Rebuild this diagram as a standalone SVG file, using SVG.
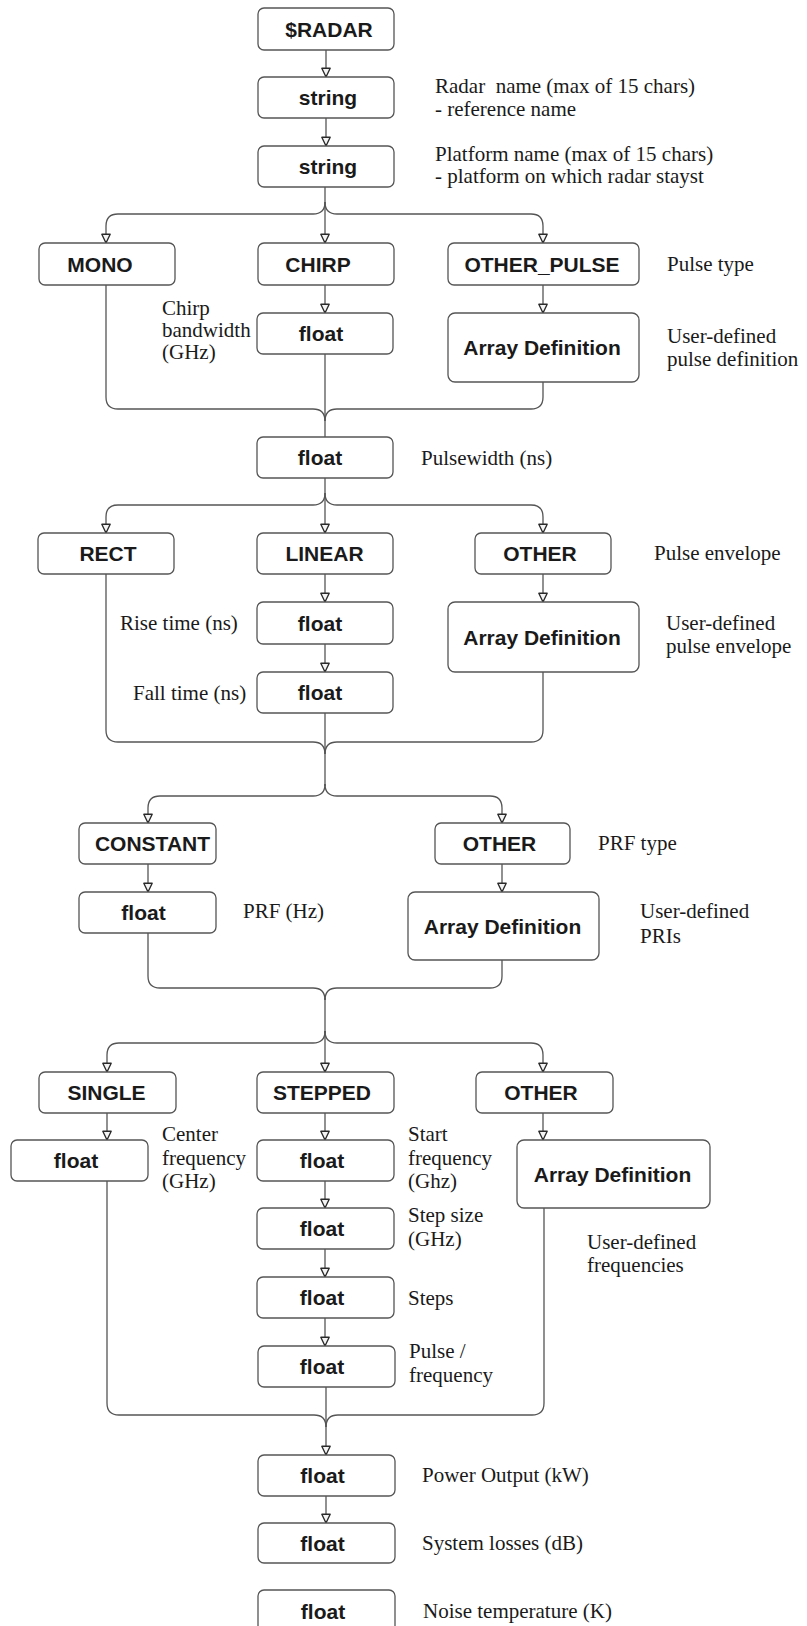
<svg xmlns="http://www.w3.org/2000/svg" width="807" height="1626" viewBox="0 0 807 1626">
  <style>
    .box { fill: #ffffff; stroke: #555555; stroke-width: 1.3; }
    .bt { font-family: "Liberation Sans", Arial, sans-serif; font-weight: bold; font-size: 21px; fill: #1a1a1a; text-anchor: middle; }
    .lb { font-family: "Liberation Serif", "Times New Roman", serif; font-size: 21px; fill: #1a1a1a; }
    .cn { fill: none; stroke: #555555; stroke-width: 1.3; }
    .ar { marker-end: url(#arrow); }
  </style>
  <defs>
    <marker id="arrow" viewBox="0 0 11 11" refX="10.4" refY="5.5" markerWidth="11" markerHeight="10" orient="auto" markerUnits="userSpaceOnUse">
      <path d="M0.8,0.9 L10.4,5.5 L0.8,10.1 Z" fill="#f4f4f4" stroke="#2a2a2a" stroke-width="1.5" stroke-linejoin="round"/>
    </marker>
  </defs>
  <rect width="807" height="1626" fill="#ffffff"/>

  <!-- connectors -->
  <g id="connectors">
    <path class="cn ar" d="M326,50 V77"/>
    <path class="cn ar" d="M326,118 V146"/>
    <!-- pulse type branch -->
    <path class="cn ar" d="M325,187 V243"/>
    <path class="cn ar" d="M325,202 Q325,214 313,214 H118 Q106,214 106,226 V243"/>
    <path class="cn ar" d="M325,202 Q325,214 337,214 H531 Q543,214 543,226 V243"/>
    <path class="cn ar" d="M325,285 V313"/>
    <path class="cn ar" d="M543,285 V313"/>
    <!-- pulse type merge -->
    <path class="cn" d="M106,285 V397 Q106,409 118,409 H313 Q325,409 325,421"/>
    <path class="cn" d="M543,382 V397 Q543,409 531,409 H337 Q325,409 325,421"/>
    <path class="cn" d="M325,354 V437"/>
    <!-- pulse envelope branch -->
    <path class="cn ar" d="M325,478 V533"/>
    <path class="cn ar" d="M325,493 Q325,505 313,505 H118 Q106,505 106,517 V533"/>
    <path class="cn ar" d="M325,493 Q325,505 337,505 H531 Q543,505 543,517 V533"/>
    <path class="cn ar" d="M325,574 V602"/>
    <path class="cn ar" d="M543,574 V602"/>
    <path class="cn ar" d="M325,644 V672"/>
    <!-- pulse envelope merge -->
    <path class="cn" d="M106,574 V730 Q106,742 118,742 H313 Q325,742 325,754"/>
    <path class="cn" d="M543,672 V730 Q543,742 531,742 H337 Q325,742 325,754"/>
    <path class="cn" d="M325,713 V786"/>
    <!-- PRF branch -->
    <path class="cn ar" d="M325,784 Q325,796 313,796 H160 Q148,796 148,808 V823"/>
    <path class="cn ar" d="M325,784 Q325,796 337,796 H490 Q502,796 502,808 V823"/>
    <path class="cn ar" d="M148,864 V892"/>
    <path class="cn ar" d="M502,864 V892"/>
    <!-- PRF merge -->
    <path class="cn" d="M148,933 V976 Q148,988 160,988 H313 Q325,988 325,1000"/>
    <path class="cn" d="M502,960 V976 Q502,988 490,988 H337 Q325,988 325,1000"/>
    <path class="cn" d="M325,998 V1033"/>
    <!-- frequency branch -->
    <path class="cn ar" d="M325,1031 V1072"/>
    <path class="cn ar" d="M325,1031 Q325,1043 313,1043 H119 Q107,1043 107,1055 V1072"/>
    <path class="cn ar" d="M325,1031 Q325,1043 337,1043 H531 Q543,1043 543,1055 V1072"/>
    <path class="cn ar" d="M107,1113 V1140"/>
    <path class="cn ar" d="M325,1113 V1140"/>
    <path class="cn ar" d="M543,1113 V1140"/>
    <path class="cn ar" d="M325,1181 V1208"/>
    <path class="cn ar" d="M325,1249 V1277"/>
    <path class="cn ar" d="M325,1318 V1346"/>
    <!-- frequency merge -->
    <path class="cn" d="M107,1181 V1403 Q107,1415 119,1415 H314 Q326,1415 326,1427"/>
    <path class="cn" d="M544,1208 V1403 Q544,1415 532,1415 H338 Q326,1415 326,1427"/>
    <path class="cn ar" d="M326,1387 V1455"/>
    <path class="cn ar" d="M326,1496 V1523"/>
  </g>

  <!-- header chain -->
  <g id="radar"><rect class="box" x="258" y="8" width="136" height="42" rx="6"/><text class="bt" x="329" y="36.5">$RADAR</text></g>
  <g id="radar-name"><rect class="box" x="258" y="77" width="136" height="41" rx="6"/><text class="bt" x="328" y="105">string</text></g>
  <g id="platform-name"><rect class="box" x="258" y="146" width="136" height="41" rx="6"/><text class="bt" x="328" y="174">string</text></g>
  <g id="radar-name-label">
    <text class="lb" x="435" y="93" xml:space="preserve">Radar  name (max of 15 chars)</text>
    <text class="lb" x="435" y="116">- reference name</text>
  </g>
  <g id="platform-name-label">
    <text class="lb" x="435" y="161">Platform name (max of 15 chars)</text>
    <text class="lb" x="435" y="183">- platform on which radar stayst</text>
  </g>

  <!-- pulse type -->
  <g id="mono"><rect class="box" x="39" y="243" width="136" height="42" rx="6"/><text class="bt" x="100" y="271.5">MONO</text></g>
  <g id="chirp"><rect class="box" x="258" y="243" width="136" height="42" rx="6"/><text class="bt" x="318" y="271.5">CHIRP</text></g>
  <g id="other-pulse"><rect class="box" x="448" y="243" width="191" height="42" rx="6"/><text class="bt" x="542" y="271.5">OTHER_PULSE</text></g>
  <text class="lb" x="667" y="271">Pulse type</text>
  <g id="chirp-bandwidth"><rect class="box" x="257" y="313" width="136" height="41" rx="6"/><text class="bt" x="321" y="341">float</text></g>
  <g id="chirp-bandwidth-label">
    <text class="lb" x="162" y="315">Chirp</text>
    <text class="lb" x="162" y="337">bandwidth</text>
    <text class="lb" x="162" y="359">(GHz)</text>
  </g>
  <g id="pulse-array"><rect class="box" x="448" y="313" width="191" height="69" rx="7"/><text class="bt" x="542" y="355">Array Definition</text></g>
  <g id="pulse-array-label">
    <text class="lb" x="667" y="343">User-defined</text>
    <text class="lb" x="667" y="366">pulse definition</text>
  </g>

  <!-- pulse width -->
  <g id="pulsewidth"><rect class="box" x="257" y="437" width="136" height="41" rx="6"/><text class="bt" x="320" y="465">float</text></g>
  <text class="lb" x="421" y="465">Pulsewidth (ns)</text>

  <!-- pulse envelope -->
  <g id="rect"><rect class="box" x="38" y="533" width="136" height="41" rx="6"/><text class="bt" x="108" y="561">RECT</text></g>
  <g id="linear"><rect class="box" x="257" y="533" width="136" height="41" rx="6"/><text class="bt" x="324.5" y="561">LINEAR</text></g>
  <g id="other-envelope"><rect class="box" x="475" y="533" width="136" height="41" rx="6"/><text class="bt" x="540" y="561">OTHER</text></g>
  <text class="lb" x="654" y="560">Pulse envelope</text>
  <g id="rise-time"><rect class="box" x="257" y="602" width="136" height="42" rx="6"/><text class="bt" x="320" y="630.5">float</text></g>
  <text class="lb" x="120" y="630">Rise time (ns)</text>
  <g id="envelope-array"><rect class="box" x="448" y="602" width="191" height="70" rx="7"/><text class="bt" x="542" y="644.5">Array Definition</text></g>
  <g id="envelope-array-label">
    <text class="lb" x="666" y="630">User-defined</text>
    <text class="lb" x="666" y="653">pulse envelope</text>
  </g>
  <g id="fall-time"><rect class="box" x="257" y="672" width="136" height="41" rx="6"/><text class="bt" x="320" y="700">float</text></g>
  <text class="lb" x="133" y="700">Fall time (ns)</text>

  <!-- PRF -->
  <g id="constant"><rect class="box" x="79" y="823" width="137" height="41" rx="6"/><text class="bt" x="152.5" y="851">CONSTANT</text></g>
  <g id="other-prf"><rect class="box" x="435" y="823" width="135" height="41" rx="6"/><text class="bt" x="499.5" y="851">OTHER</text></g>
  <text class="lb" x="598" y="850">PRF type</text>
  <g id="prf"><rect class="box" x="79" y="892" width="137" height="41" rx="6"/><text class="bt" x="143.5" y="920">float</text></g>
  <text class="lb" x="243" y="918">PRF (Hz)</text>
  <g id="pri-array"><rect class="box" x="408" y="892" width="191" height="68" rx="7"/><text class="bt" x="502.5" y="933.5">Array Definition</text></g>
  <g id="pri-array-label">
    <text class="lb" x="640" y="918">User-defined</text>
    <text class="lb" x="640" y="943">PRIs</text>
  </g>

  <!-- frequency -->
  <g id="single"><rect class="box" x="39" y="1072" width="137" height="41" rx="6"/><text class="bt" x="106.5" y="1100">SINGLE</text></g>
  <g id="stepped"><rect class="box" x="257" y="1072" width="137" height="41" rx="6"/><text class="bt" x="322" y="1100">STEPPED</text></g>
  <g id="other-frequency"><rect class="box" x="476" y="1072" width="137" height="41" rx="6"/><text class="bt" x="541" y="1100">OTHER</text></g>
  <g id="center-frequency"><rect class="box" x="11" y="1140" width="137" height="41" rx="6"/><text class="bt" x="76" y="1168">float</text></g>
  <g id="center-frequency-label">
    <text class="lb" x="162" y="1141">Center</text>
    <text class="lb" x="162" y="1165">frequency</text>
    <text class="lb" x="162" y="1188">(GHz)</text>
  </g>
  <g id="start-frequency"><rect class="box" x="257" y="1140" width="137" height="41" rx="6"/><text class="bt" x="322" y="1168">float</text></g>
  <g id="start-frequency-label">
    <text class="lb" x="408" y="1141">Start</text>
    <text class="lb" x="408" y="1165">frequency</text>
    <text class="lb" x="408" y="1188">(Ghz)</text>
  </g>
  <g id="frequency-array"><rect class="box" x="517" y="1140" width="193" height="68" rx="7"/><text class="bt" x="612.5" y="1181.5">Array Definition</text></g>
  <g id="frequency-array-label">
    <text class="lb" x="587" y="1249">User-defined</text>
    <text class="lb" x="587" y="1272">frequencies</text>
  </g>
  <g id="step-size"><rect class="box" x="257" y="1208" width="137" height="41" rx="6"/><text class="bt" x="322" y="1236">float</text></g>
  <g id="step-size-label">
    <text class="lb" x="408" y="1222">Step size</text>
    <text class="lb" x="408" y="1246">(GHz)</text>
  </g>
  <g id="steps"><rect class="box" x="257" y="1277" width="137" height="41" rx="6"/><text class="bt" x="322" y="1305">float</text></g>
  <text class="lb" x="408" y="1305">Steps</text>
  <g id="pulse-per-frequency"><rect class="box" x="258" y="1346" width="137" height="41" rx="6"/><text class="bt" x="322" y="1374">float</text></g>
  <g id="pulse-per-frequency-label">
    <text class="lb" x="409" y="1358">Pulse /</text>
    <text class="lb" x="409" y="1382">frequency</text>
  </g>

  <!-- output chain -->
  <g id="power-output"><rect class="box" x="258" y="1455" width="137" height="41" rx="6"/><text class="bt" x="322.5" y="1483">float</text></g>
  <text class="lb" x="422" y="1482">Power Output (kW)</text>
  <g id="system-losses"><rect class="box" x="258" y="1523" width="137" height="40" rx="6"/><text class="bt" x="322.5" y="1550.5">float</text></g>
  <text class="lb" x="422" y="1550">System losses (dB)</text>
  <g id="noise-temperature"><rect class="box" x="258" y="1590" width="137" height="45" rx="6"/><text class="bt" x="323" y="1619">float</text></g>
  <text class="lb" x="423" y="1618">Noise temperature (K)</text>
</svg>
